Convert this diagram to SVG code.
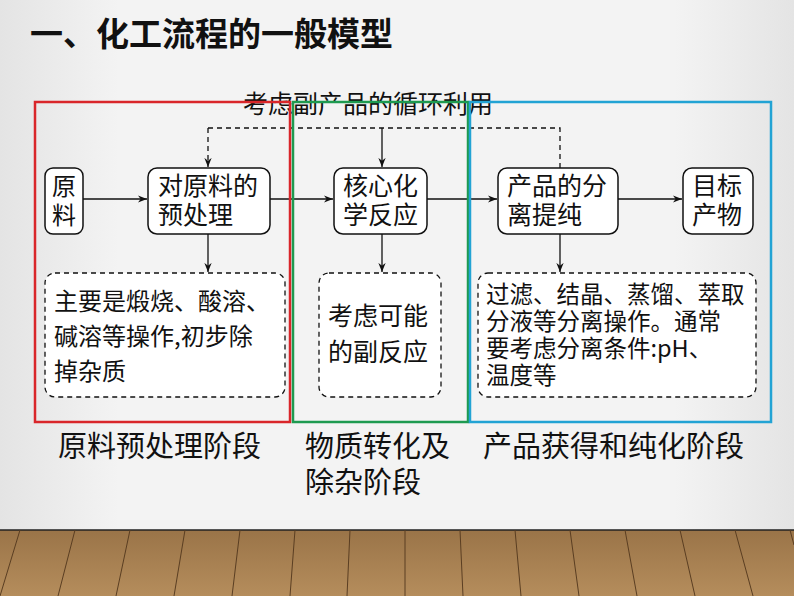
<svg xmlns="http://www.w3.org/2000/svg" width="794" height="596" viewBox="0 0 794 596">
<defs>
<linearGradient id="bg" x1="0" x2="1" y1="0" y2="0"><stop offset="0" stop-color="#e4e4e4"/><stop offset="0.15" stop-color="#f3f3f3"/><stop offset="0.85" stop-color="#f3f3f3"/><stop offset="1" stop-color="#e4e4e4"/></linearGradient>
<linearGradient id="wood" x1="0" x2="0" y1="0" y2="1"><stop offset="0" stop-color="#9a7448"/><stop offset="1" stop-color="#b58d5c"/></linearGradient>
<marker id="ah" viewBox="0 0 10 10" refX="10" refY="5" markerWidth="7" markerHeight="7" orient="auto"><path d="M0,1 L10,5 L0,9 L3,5 Z" fill="#111"/></marker>
</defs>
<style>
.t{font-family:"Noto Sans CJK SC",sans-serif;fill:#111}
.n{fill:#fff;stroke:#111;stroke-width:1.5}
.d{fill:#fff;stroke:#111;stroke-width:1.3;stroke-dasharray:5,4}
.c{fill:none;stroke:#111;stroke-width:1.3}
</style>
<rect width="794" height="596" fill="url(#bg)"/>
<rect x="0" y="530" width="794" height="66" fill="url(#wood)"/>
<line x1="0" y1="530" x2="794" y2="530" stroke="#222" stroke-width="1.5"/>
<g stroke="#5a3e22" stroke-width="1">
<line x1="20" y1="530" x2="0" y2="596"/><line x1="75" y1="530" x2="58" y2="596"/><line x1="130" y1="530" x2="116" y2="596"/><line x1="185" y1="530" x2="174" y2="596"/><line x1="240" y1="530" x2="232" y2="596"/><line x1="295" y1="530" x2="290" y2="596"/><line x1="350" y1="530" x2="347" y2="596"/><line x1="405" y1="530" x2="405" y2="596"/><line x1="460" y1="530" x2="463" y2="596"/><line x1="515" y1="530" x2="521" y2="596"/><line x1="570" y1="530" x2="579" y2="596"/><line x1="625" y1="530" x2="637" y2="596"/><line x1="680" y1="530" x2="695" y2="596"/><line x1="735" y1="530" x2="753" y2="596"/><line x1="790" y1="530" x2="794" y2="545"/>
</g>
<text class="t" x="30" y="46" font-size="33" font-weight="bold">一、化工流程的一般模型</text>
<text class="t" x="368" y="113" font-size="25" text-anchor="middle">考虑副产品的循环利用</text>
<g id="connectors">
<path class="c" stroke-dasharray="5,4" d="M560,168 V128 H208"/>
<line class="c" stroke-dasharray="5,4" x1="208" y1="128" x2="208" y2="167" marker-end="url(#ah)"/>
<line class="c" x1="382" y1="128" x2="382" y2="167" marker-end="url(#ah)"/>
<line class="c" x1="83" y1="199" x2="147" y2="199" marker-end="url(#ah)"/>
<line class="c" x1="270" y1="199" x2="333" y2="199" marker-end="url(#ah)"/>
<line class="c" x1="427" y1="199" x2="497" y2="199" marker-end="url(#ah)"/>
<line class="c" x1="618" y1="199" x2="682" y2="199" marker-end="url(#ah)"/>
<line class="c" x1="208" y1="234" x2="208" y2="272" marker-end="url(#ah)"/>
<line class="c" x1="382" y1="234" x2="382" y2="272" marker-end="url(#ah)"/>
<line class="c" x1="560" y1="234" x2="560" y2="272" marker-end="url(#ah)"/>
</g>
<g id="n1"><rect class="n" x="45" y="168" width="38" height="66" rx="8"/><text class="t" x="64" y="195" font-size="24" text-anchor="middle">原</text><text class="t" x="64" y="224" font-size="24" text-anchor="middle">料</text></g>
<g id="n2"><rect class="n" x="148" y="168" width="122" height="66" rx="9"/><text class="t" x="158" y="195" font-size="25">对原料的</text><text class="t" x="158" y="224" font-size="25">预处理</text></g>
<g id="n3"><rect class="n" x="334" y="168" width="93" height="66" rx="9"/><text class="t" x="343" y="195" font-size="25">核心化</text><text class="t" x="343" y="224" font-size="25">学反应</text></g>
<g id="n4"><rect class="n" x="498" y="168" width="120" height="66" rx="9"/><text class="t" x="507" y="195" font-size="25">产品的分</text><text class="t" x="507" y="224" font-size="25">离提纯</text></g>
<g id="n5"><rect class="n" x="683" y="168" width="70" height="66" rx="9"/><text class="t" x="692" y="195" font-size="25">目标</text><text class="t" x="692" y="224" font-size="25">产物</text></g>
<g id="d1"><rect class="d" x="45" y="273" width="240" height="124" rx="10"/><text class="t" x="54" y="310" font-size="24">主要是煅烧、酸溶、</text><text class="t" x="54" y="345" font-size="24">碱溶等操作,初步除</text><text class="t" x="54" y="380" font-size="24">掉杂质</text></g>
<g id="d2"><rect class="d" x="319" y="273" width="122" height="124" rx="10"/><text class="t" x="328" y="325" font-size="25">考虑可能</text><text class="t" x="328" y="361" font-size="25">的副反应</text></g>
<g id="d3"><rect class="d" x="478" y="273" width="278" height="124" rx="10"/><text class="t" x="486" y="303" font-size="23.5">过滤、结晶、蒸馏、萃取</text><text class="t" x="486" y="330" font-size="23.5">分液等分离操作。通常</text><text class="t" x="486" y="357" font-size="23.5">要考虑分离条件:pH、</text><text class="t" x="486" y="384" font-size="23.5">温度等</text></g>
<g id="stages" fill="none" stroke-width="2.5">
<rect x="35" y="102" width="255" height="320" stroke="#d9262a"/>
<rect x="293" y="102" width="175" height="320" stroke="#1e9a50"/>
<rect x="470" y="102" width="301" height="320" stroke="#22a3d4"/>
</g>
<text class="t" x="58" y="457" font-size="29">原料预处理阶段</text>
<text class="t" x="305" y="457" font-size="29">物质转化及</text>
<text class="t" x="305" y="493" font-size="29">除杂阶段</text>
<text class="t" x="483" y="457" font-size="29">产品获得和纯化阶段</text>
</svg>
